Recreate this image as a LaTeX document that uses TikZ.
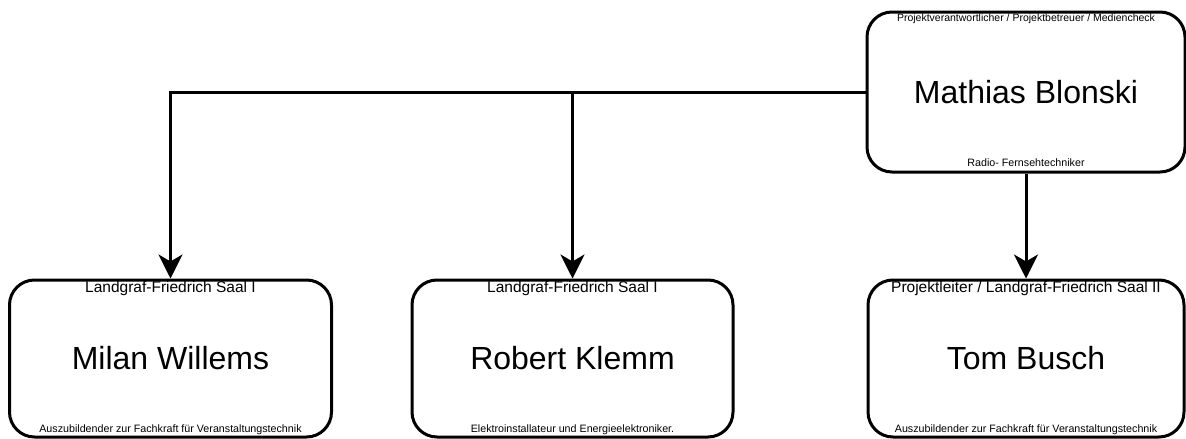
\documentclass[tikz,border=0pt]{standalone}
\usepackage{fontspec}
\setmainfont{Liberation Sans}
\usetikzlibrary{positioning,arrows.meta}

\tikzset{
  person/.style={draw, line width=3pt, rounded corners=25pt, minimum width=322pt,
    minimum height=157pt, inner sep=0pt, font=\fontsize{32}{38}\selectfont},
  role/.style={inner sep=0pt, font=\fontsize{15.5}{18}\selectfont},
  job/.style={inner sep=0pt, font=\fontsize{10.7}{13}\selectfont},
  link/.style={line width=3pt, -{Stealth[length=24pt,width=24pt,inset=7pt]}},
}

\begin{document}
\begin{tikzpicture}[x=1pt,y=-1pt]

\useasboundingbox (0,0) rectangle (1186,439);

% define nodes

% head
\node[person, minimum width=318pt, minimum height=160pt] (mb) at (1026,92) {Mathias Blonski};
\node[job, font=\fontsize{10.5}{13}\selectfont, below=3pt of mb.north] (mbr) {Projektverantwortlicher / Projektbetreuer / Mediencheck};
\node[job, above=7pt of mb.south] (mbj) {Radio- Fernsehtechniker};
% team
\node[person] (mw) at (170.5,358.5) {Milan Willems};
\node[role, below=3pt of mw.north] (mwr) {Landgraf-Friedrich Saal I};
\node[job, above=4pt of mw.south] (mwj) {Auszubildender zur Fachkraft für Veranstaltungstechnik};

\node[person, minimum width=321pt] (rk) at (572.5,358.5) {Robert Klemm};
\node[role, below=3pt of rk.north] (rkr) {Landgraf-Friedrich Saal I};
\node[job, above=4pt of rk.south] (rkj) {Elektroinstallateur und Energieelektroniker.};

\node[person, minimum width=316pt] (tb) at (1026,358.5) {Tom Busch};
\node[role, below=3pt of tb.north] (tbr) {Projektleiter / Landgraf-Friedrich Saal II};
\node[job, above=4pt of tb.south] (tbj) {Auszubildender zur Fachkraft für Veranstaltungstechnik};

% edges

\draw[link] (mb.west) -| (mw.north);
\draw[link] (mb.west) -| (rk.north);
\draw[link] (mb.south) -- (tb.north);

\end{tikzpicture}
\end{document}
